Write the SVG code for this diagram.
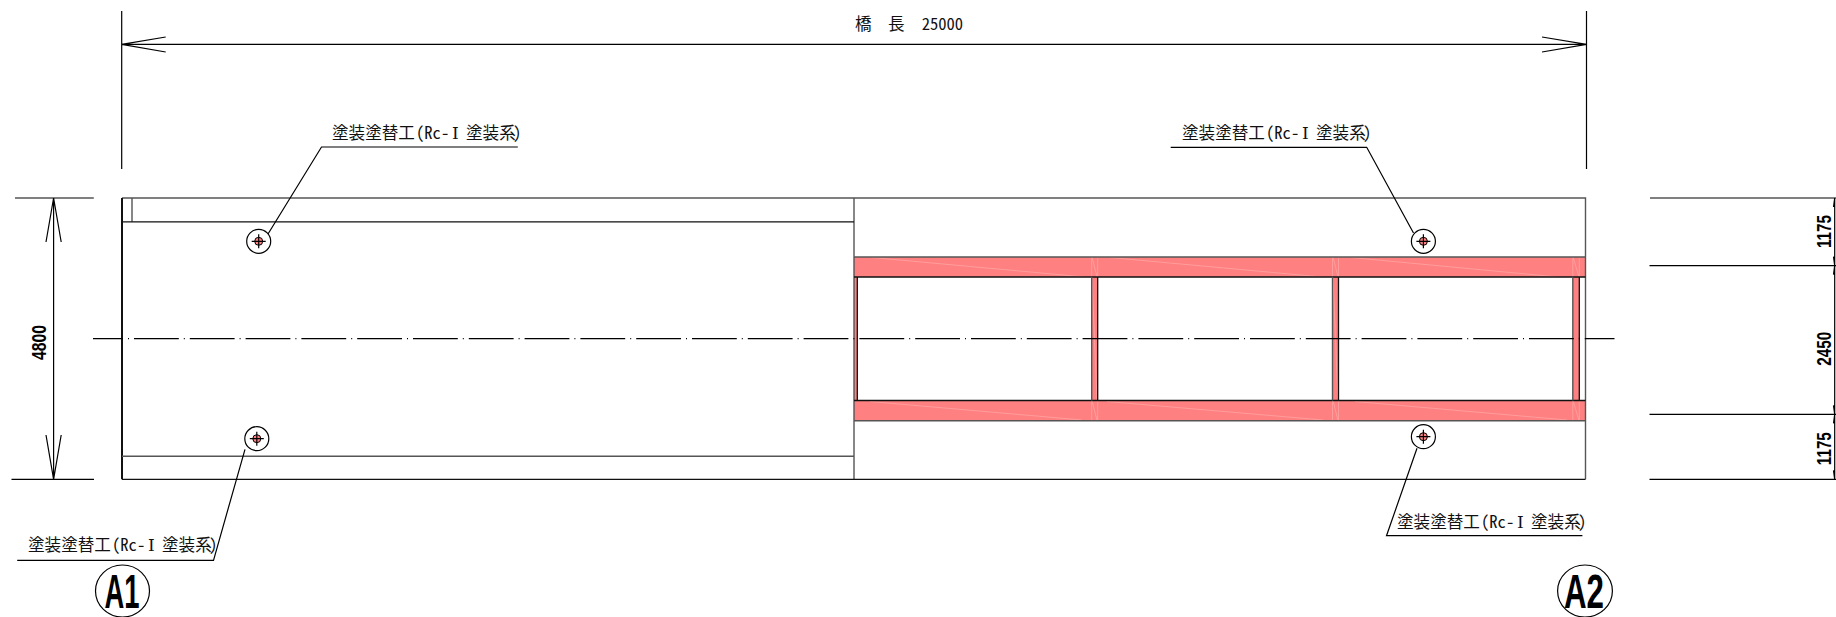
<svg xmlns="http://www.w3.org/2000/svg" width="1836" height="617" viewBox="0 0 1836 617">
<style>
.l{fill:none;stroke:#000;stroke-width:1.2}
.g{fill:none;stroke:#555;stroke-width:1.4}
.k{fill:none;stroke:#111;stroke-width:1.3}
.p{fill:#ff8080;stroke:none}
.f{fill:none;stroke:#ffb4b4;stroke-width:.8;opacity:.7}
.t{font-family:"Noto Sans CJK JP","Noto Sans",sans-serif;font-size:16.6px;fill:#111}
.h{font-feature-settings:"hwid"}
.i{font-family:"DejaVu Serif",serif;font-size:17px}
.b{font-family:"Liberation Sans",Arial,sans-serif;font-weight:700;font-size:21px;fill:#000}
.a{font-family:"Liberation Sans",Arial,sans-serif;font-weight:700;font-size:49px;fill:#000}
.m{fill:#fff;stroke:#000;stroke-width:1.2}
.r{fill:#ff8080;stroke:#000;stroke-width:1}
</style>
<defs>
<g id="mark"><circle class="m" r="12"/><circle class="r" r="4"/><path class="l" d="M-7 0H7M0-7V7"/></g>
</defs>
<g id="deck">
<path class="p" d="M854 257H1585.500V277H854zM854 400.500H1585.500V420.500H854zM1091.700 277H1097.700V400.500H1091.700zM1332.500 277H1338.500V400.500H1332.500zM1572.800 277H1579.300V400.500H1572.800zM854 277H857.300V400.500H854z"/>
<path class="f" d="M872 257.500L1085 277M1110 257.500L1322 277M1351 257.500L1558 277M870 401.500L1082 420M1107 401.500L1323 420M1355 401.500L1567 420M1091.700 257V277M1097.700 257V277M1332.500 257V277M1338.500 257V277M1572.800 257V277M1579.300 257V277M1091.700 400.500V420.500M1097.700 400.500V420.500M1332.500 400.500V420.500M1338.500 400.500V420.500M1572.800 400.500V420.500M1579.300 400.500V420.500M1092 257L1097 277M1333 257L1338 277M1573 257L1579 277M1092 400.500L1097 420.500M1333 400.500L1338 420.500M1573 400.500L1579 420.500M1092 277L1097 400.500M1333 277L1338 400.500"/>
<path class="g" d="M122 198H1585.500V479.300M854 198V479.300M132 198V221.800M854 257H1585.500M854 420.700H1585.500"/>
<path class="k" d="M122 479.300H1585.500M122 221.800H854M854 277H1585.500M854 400.500H1585.500M857.300 277V400.500M1097.700 277V400.500M1338.500 277V400.500M1579.300 277V400.500"/>
<path class="g" d="M1091.700 277V400.500M1332.500 277V400.500M1572.800 277V400.500"/>
<path class="k" d="M122 198V479.300" style="stroke-width:2"/>
<path class="g" d="M122 456.200H854"/>
</g>
<g id="connectors">
<path class="l" d="M93 338.700H1614.500" stroke-dasharray="44.800 5 1 5" stroke-dashoffset="14.800"/>
<path class="l" d="M121.700 11V169M1586.500 11V169M121.700 44.300H1586.500M165.700 37L121.700 44.300L165.700 52M1542 37L1586.500 44.300L1542 52"/>
<path class="l" d="M15 198H93.800M11.500 479.300H94M53.600 198V479.300M46 242L53.600 198L61.200 242M46 435L53.600 479.300L61.200 435"/>
<path class="l" d="M1650 198H1836M1649.500 265.700H1836M1649.500 414.300H1836M1649.500 479.300H1836M1834.700 198V479.300M1833.500 207L1834.700 198M1833.500 256.700L1834.700 265.700M1833.500 274.700L1834.700 265.700M1833.500 405.300L1834.700 414.300M1833.500 423.300L1834.700 414.300M1833.500 470.300L1834.700 479.300"/>
<path class="l" d="M268 234L321.500 147H517.800M245 449.300L213.500 560.300H17.200M1413.500 233L1366.700 147.300H1170.700M1417 448.300L1386.500 535.700H1582.400"/>
</g>
<g id="dim-length"><text class="t" y="30"><tspan x="855">橋</tspan><tspan x="888">長</tspan><tspan class="h" x="921.700">25000</tspan></text></g>
<g id="dim-4800"><text class="b" transform="translate(46 342.500) rotate(-90)" text-anchor="middle" textLength="35" lengthAdjust="spacingAndGlyphs">4800</text></g>
<g id="dim-1175a"><text class="b" transform="translate(1830.500 231.500) rotate(-90)" text-anchor="middle" textLength="33" lengthAdjust="spacingAndGlyphs">1175</text></g>
<g id="dim-2450"><text class="b" transform="translate(1830.500 348.700) rotate(-90)" text-anchor="middle" textLength="34" lengthAdjust="spacingAndGlyphs">2450</text></g>
<g id="dim-1175b"><text class="b" transform="translate(1830.500 448.700) rotate(-90)" text-anchor="middle" textLength="33" lengthAdjust="spacingAndGlyphs">1175</text></g>
<g id="mark-1"><use href="#mark" x="258.700" y="241.300"/></g>
<g id="mark-2"><use href="#mark" x="256.800" y="438.700"/></g>
<g id="mark-3"><use href="#mark" x="1423.400" y="241.300"/></g>
<g id="mark-4"><use href="#mark" x="1423.400" y="436.700"/></g>
<g id="label-1" transform="translate(332 139)"><text class="t"><tspan x="0">塗装塗替工</tspan><tspan class="h" x="84">(Rc-</tspan><tspan class="i" x="120">Ⅰ</tspan><tspan x="134">塗装系</tspan><tspan class="h" x="181">)</tspan></text></g>
<g id="label-2" transform="translate(28 551)"><text class="t"><tspan x="0">塗装塗替工</tspan><tspan class="h" x="84">(Rc-</tspan><tspan class="i" x="120">Ⅰ</tspan><tspan x="134">塗装系</tspan><tspan class="h" x="181">)</tspan></text></g>
<g id="label-3" transform="translate(1182 139)"><text class="t"><tspan x="0">塗装塗替工</tspan><tspan class="h" x="84">(Rc-</tspan><tspan class="i" x="120">Ⅰ</tspan><tspan x="134">塗装系</tspan><tspan class="h" x="181">)</tspan></text></g>
<g id="label-4" transform="translate(1397 528)"><text class="t"><tspan x="0">塗装塗替工</tspan><tspan class="h" x="84">(Rc-</tspan><tspan class="i" x="120">Ⅰ</tspan><tspan x="134">塗装系</tspan><tspan class="h" x="181">)</tspan></text></g>
<g id="A1"><ellipse class="m" cx="122.500" cy="591" rx="27" ry="26"/><text class="a" x="122" y="608" text-anchor="middle" textLength="35" lengthAdjust="spacingAndGlyphs">A1</text></g>
<g id="A2"><ellipse class="m" cx="1585" cy="591" rx="27.400" ry="26"/><text class="a" x="1584" y="608" text-anchor="middle" textLength="40" lengthAdjust="spacingAndGlyphs">A2</text></g>
</svg>
